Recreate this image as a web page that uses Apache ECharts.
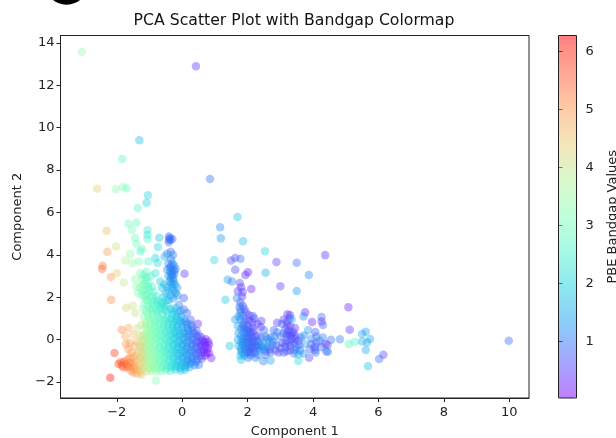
<!DOCTYPE html>
<html><head><meta charset="utf-8">
<style>html,body{margin:0;padding:0;background:#fff}#c{width:616px;height:438px}</style>
<script src="https://cdn.jsdelivr.net/npm/echarts@6/dist/echarts.min.js"></script>
</head><body><div id="c"></div>
<script>
const chartTitle = 'PCA Scatter Plot with Bandgap Colormap';
const xLabel = 'Component 1', yLabel = 'Component 2', barLabel = 'PBE Bandgap Values';
const xTicks = [-2, 0, 2, 4, 6, 8, 10];
const yTicks = [-2, 0, 2, 4, 6, 8, 10, 12, 14];
const barTicks = [1, 2, 3, 4, 5, 6];
const rainbowStops = ['#8000ff','#4c4ffc','#1a96f2','#1acee3','#4cf2ce','#80ffb4','#b3f296','#e6ce74','#ff964f','#ff4f28','#ff0000'];

// each point: [component 1, component 2, bandgap]
const outliers = [
[-3.07,13.58,3.5],[.42,12.9,.4],[-1.31,9.41,1.7],[-1.83,8.52,2.7],[.85,7.58,1],[-2.6,7.12,4.4],[-2.03,7.1,3.4],[-1.81,7.2,3.2],[-1.7,7.14,3],
[-1.05,6.82,2],[-1.09,6.46,2],[-1.36,6.2,2.6],[9.98,-.05,.9]];
const upperLeft = [
[-2.31,5.14,4.6],[-2.02,4.4,4.1],[-2.29,4.15,4.9],[-2.43,3.49,5.3],[-2.45,3.33,5.4],[-2.18,2.96,5],[-2,3.14,4.4],[-1.79,2.7,4],[-2.17,1.89,5.1],
[-1.71,1.51,4.3],[-1.51,1.6,4],[-1.44,1.26,4],[-1.64,5.47,3],[-1.4,5.53,2.9],[-1.54,5.19,3],[-1.44,4.8,3],[-1.4,4.53,3],[-1.06,5.16,2.4],[-1.06,4.95,2.3],[-1.06,4.75,2.6],
[-.7,4.81,1.8],[-.74,4.37,2],[-.41,4.87,.9],[-.36,4.72,.9],[-.41,4.6,.9],[-.3,4.75,1],[-1.23,4.28,2.9],[-1.28,4.17,2.7],[-1.59,4.04,3.3],[-1.74,3.74,3.8],[-1.52,3.62,3.5],[-1.33,3.69,3.1],
[-1.03,3.69,2.6],[-.82,3.85,2],[-.75,3.62,2.1],[-.46,4.06,1.2],[-.54,3.93,1.5],[-.34,3.8,1.1],[-.42,3.6,1.2],[-.25,3.5,1.1],[-.46,3.3,1.3],[-.36,3.2,1.2],[-.2,3.35,1.2],
[-.33,3.05,1.2],[-.28,2.9,1.1],[-.38,2.75,1.3],[.07,3.11,.5],[.05,1.97,.7],[-.82,3.14,2.2],[-.67,2.75,1.9],[-.62,2.44,1.8],[-.55,2.6,1.7],[-.41,1.89,1.5],[-.41,2.28,1.6],[-.26,2.35,1.5],[-.15,2.08,1.2],[-.28,1.95,1.4],
[-.1,1.65,1],[.05,1.42,.9],[.15,1.26,.9],[-.05,1.35,1.2],[.26,.94,.8],[.48,.75,.4],[.1,.85,1.1],
[-1.28,3.14,3],[-1.44,2.86,3.4],[-1.18,3.05,2.9],[-1.12,2.83,2.9],[-1.02,2.67,2.8],[-1.28,2.5,3.1],[-1,2.36,2.7],[-1.23,2.12,3],[-.92,2.05,2.7],[-1.12,1.9,2.9],[-.77,1.72,2.6],[-1.05,1.6,2.8],[-.9,1.5,2.7],[-1.2,1.45,3.2],[-.65,1.5,2.4],
[-1.4,2.5,3.3],[-1.1,3.2,2.8],[-.96,3.0,2.6],[-1.35,2.2,3.1],
[-1.15,2.6,3],[-1.2,2.3,3],[-1.08,2.15,2.9],[-1.0,2.0,2.8],[-.85,1.85,2.7],[-.95,1.75,2.8],[-1.1,1.35,3],[-.8,1.4,2.7],[-.7,1.6,2.5],[-.55,1.55,2.3],[-.45,1.6,2.1],[-.35,1.45,1.9],[-.2,1.5,1.7],
[-.34,3.45,1.1],[-.3,3.28,1.2],[-.24,3.1,1.2],[-.42,3.0,1.3],[-.32,2.65,1.3],[-.22,2.6,1.3],[-.15,2.45,1.4],[-.35,4.15,1],[-.28,4.0,1.1],[-.4,4.7,.9],[-.38,4.8,.8],
[-.38,3.4,1],[-.3,3.6,1.1],[-.24,3.25,1],[-.3,3.05,1],[-.35,2.9,1.2],[-.26,2.75,1.2],[-.45,2.5,1.5],[-.32,2.45,1.4],[-.5,2.2,1.6],[-.35,2.1,1.5],[-.2,2.2,1.3],[-.58,2.0,1.9],[-.5,1.85,1.8],[-.62,1.75,2.1],
[-1.22,2.85,3.0],[-1.08,2.95,2.7],[-1.2,2.6,3.1],[-1.05,2.5,2.8],[-.92,2.5,2.6],[-1.12,2.35,2.9],[-.88,2.25,2.6],[-.78,2.05,2.5],[-1.14,2.05,3],[-1.05,1.85,2.9],[-.88,1.65,2.6],[-.75,1.85,2.4],[-.62,1.65,2.3],[-1.15,1.7,3.1],[-1.0,1.45,2.9],[-.52,1.4,2.2],[-.7,1.38,2.5],[-.9,1.32,2.8],[-.25,1.35,1.8],[-.12,1.28,1.6]];
const lowerLeft = [
[-2.07,-.63,5.8],[-2.2,-1.8,6.1],[-1.85,.47,5.1],[-1.64,.55,4.8],[-1.38,.55,4],[-1.74,.16,4.8],[-1.95,-1.15,5.6],[-1.85,-1.2,5.6],[-1.78,-1.05,5.5],[-1.72,-1.15,5.4],[-1.68,-.95,5.3],[-1.7,-1.3,5.3],
[-1.72,-.2,5],[-1.6,-.15,4.9],[-1.65,-.45,5],[-1.55,-.6,4.9],[-1.6,-.85,5.1],[-1.5,-1.1,5],[-1.55,-1.3,5.1],[-1.45,-1.4,5],[-1.4,-1.6,4.8],[-1.25,-1.65,4.5],[-1.5,-1.55,5],
[-1.45,-.3,4.8],[-1.38,-.1,4.7],[-1.35,-.6,4.6],[-1.3,-.9,4.5],[-1.4,-1.0,4.7],[-1.3,-1.25,4.5],[-1.5,.25,4.5],[-1.3,.2,4.2],[-1.25,.7,4],[-1.3,-.35,4.3],
[-.8,-1.93,3.2],
[-1.5,-.85,4.9],[-1.42,-.75,4.7],[-1.45,-1.25,4.9],[-1.35,-1.4,4.7],[-1.3,-1.55,4.6],[-1.22,-1.4,4.3],[-1.25,-1.1,4.3],[-1.22,-.8,4.2],[-1.25,-.55,4.2],[-1.25,-.15,4.1],[-1.22,.15,3.9],[-1.6,-1.1,5.2],[-1.65,-1.25,5.3],[-1.8,-1.3,5.5],[-1.88,-1.05,5.6],[-1.58,-1.45,5.1]];
const mainCluster = [
[-1.18,1.1,3.4],[-1.05,1.2,3],[-.9,1.15,3],[-.75,1.25,2.7],[-.6,1.2,2.4],[-.45,1.28,2.2],[-.3,1.2,2],[-.17,1.1,1.7],
[-1.1,.85,3.3],[-.97,.9,3.1],[-.82,.85,2.9],[-.68,.95,2.7],[-.52,.88,2.4],[-.38,.95,2.2],[-.24,.85,1.9],[-.08,.9,1.6],
[-1.12,.55,3.5],[-1,.6,3.2],[-.87,.55,3],[-.72,.62,2.8],[-.58,.55,2.5],[-.44,.62,2.3],[-.3,.55,2],[-.15,.6,1.7],[0,.58,1.4],[.16,.55,1.2],[.3,.6,.9],
[-1.15,.25,3.6],[-1.02,.3,3.3],[-.9,.25,3.1],[-.76,.32,2.9],[-.62,.25,2.6],[-.48,.3,2.4],[-.34,.25,2.1],[-.2,.32,1.8],[-.06,.25,1.6],[.08,.3,1.3],[.22,.25,1.1],[.36,.3,.8],[.5,.2,.6],
[-1.18,-.05,3.8],[-1.05,0,3.5],[-.92,-.05,3.2],[-.78,.02,3],[-.64,-.05,2.7],[-.5,0,2.5],[-.36,-.05,2.2],[-.22,.02,1.9],[-.08,-.05,1.6],[.06,0,1.4],[.2,-.05,1.1],[.34,0,.9],[.48,-.08,.7],[.62,-.05,.4],[.72,.02,.25],
[-1.22,-.35,4.1],[-1.08,-.3,3.6],[-.95,-.35,3.3],[-.82,-.28,3.1],[-.68,-.35,2.8],[-.54,-.3,2.6],[-.4,-.35,2.3],[-.26,-.28,2],[-.12,-.35,1.7],[.02,-.3,1.5],[.16,-.35,1.2],[.3,-.3,1],[.44,-.35,.8],[.58,-.3,.5],[.7,-.28,.3],[.82,-.24,.2],
[-1.18,-.65,3.9],[-1.05,-.6,3.6],[-.92,-.65,3.3],[-.78,-.6,3],[-.64,-.65,2.8],[-.5,-.6,2.5],[-.36,-.65,2.2],[-.22,-.6,1.9],[-.08,-.65,1.7],[.06,-.6,1.4],[.2,-.65,1.2],[.34,-.6,1],[.48,-.62,.7],[.62,-.58,.3],[.74,-.62,.15],[.82,-.63,.1],[.89,-.86,.2],
[-1.2,-.95,4],[-1.06,-.9,3.7],[-.93,-.95,3.4],[-.8,-.9,3.1],[-.66,-.95,2.9],[-.52,-.9,2.6],[-.38,-.95,2.3],[-.24,-.9,2],[-.1,-.95,1.7],[.04,-.9,1.5],[.18,-.95,1.3],[.32,-.9,1.1],[.46,-.92,.9],[.6,-.9,.6],
[-1.15,-1.25,3.9],[-1.02,-1.2,3.7],[-.88,-1.25,3.4],[-.74,-1.2,3.1],[-.6,-1.25,2.8],[-.46,-1.2,2.5],[-.32,-1.25,2.3],[-.18,-1.2,2],[-.04,-1.25,1.7],[.1,-1.2,1.5],[.24,-1.15,1.3],[.38,-1.2,1.1],[.51,-1.18,1],
[-1.08,-1.5,3.9],[-.95,-1.48,3.6],[-.8,-1.5,3.3],[-.66,-1.48,3],[-.5,-1.45,2.7],[-.35,-1.48,2.4],[-.2,-1.4,2.1],[-.05,-1.45,1.9],[.08,-1.42,1.8]];
const mainFill = [
[-1.02,1.02,3.2],[-.88,.98,3],[-.74,1.05,2.8],[-.6,.98,2.6],[-.46,1.05,2.4],[-.32,1.0,2.05],[-.18,.95,1.85],[-.04,1.08,1.6],[.06,.95,1.4],
[-1.12,.7,3.5],[-.98,.72,3.3],[-.84,.7,3],[-.7,.75,2.8],[-.56,.7,2.5],[-.42,.75,2.2],[-.28,.7,2],[-.14,.72,1.8],[0,.78,1.5],[.14,.72,1.2],[.26,.72,1],
[-1.08,.4,3.5],[-.94,.42,3.2],[-.8,.4,3],[-.66,.45,2.7],[-.52,.4,2.5],[-.38,.45,2.2],[-.24,.4,1.9],[-.1,.45,1.7],[.04,.4,1.5],[.18,.42,1.2],[.32,.45,1],[.44,.42,.8],
[-1.1,.1,3.6],[-.96,.12,3.3],[-.82,.1,3],[-.68,.15,2.8],[-.54,.1,2.5],[-.4,.15,2.3],[-.26,.1,2],[-.12,.15,1.7],[.02,.1,1.5],[.16,.15,1.2],[.3,.1,1],[.44,.15,.8],[.58,.12,.5],
[-1.12,-.2,3.7],[-.98,-.18,3.4],[-.84,-.2,3.1],[-.7,-.15,2.9],[-.56,-.2,2.6],[-.42,-.15,2.3],[-.28,-.2,2],[-.14,-.15,1.8],[0,-.2,1.5],[.14,-.15,1.3],[.28,-.2,1.1],[.42,-.15,.8],[.56,-.18,.5],[.68,-.12,.3],[.8,-.1,.2],
[-1.14,-.5,3.8],[-1,-.48,3.4],[-.86,-.5,3.1],[-.72,-.45,2.9],[-.58,-.5,2.6],[-.44,-.45,2.4],[-.3,-.5,2.1],[-.16,-.45,1.8],[-.02,-.5,1.6],[.12,-.45,1.3],[.26,-.5,1.1],[.4,-.45,.9],[.54,-.48,.6],[.66,-.45,.35],[.78,-.42,.2],
[-1.12,-.8,3.8],[-.98,-.78,3.5],[-.84,-.8,3.2],[-.7,-.75,3],[-.56,-.8,2.7],[-.42,-.75,2.4],[-.28,-.8,2.1],[-.14,-.75,1.8],[0,-.8,1.5],[.14,-.75,1.3],[.28,-.8,1.1],[.42,-.75,.9],[.56,-.78,.6],[.7,-.75,.25],
[-1.12,-1.1,3.8],[-.98,-1.08,3.5],[-.84,-1.1,3.2],[-.7,-1.05,3],[-.56,-1.1,2.7],[-.42,-1.05,2.4],[-.28,-1.1,2.1],[-.14,-1.05,1.8],[0,-1.1,1.6],[.14,-1.05,1.3],[.28,-1.05,1.1],[.42,-1.05,1],
[-1.04,-1.36,3.7],[-.9,-1.34,3.4],[-.76,-1.36,3.2],[-.62,-1.32,2.9],[-.48,-1.35,2.6],[-.34,-1.32,2.3],[-.2,-1.28,2],[-.06,-1.33,1.8],[.08,-1.3,1.6],[.22,-1.3,1.4]];
const rightCluster = [
[1.69,5.79,1.8],[1.16,5.31,1.2],[1.18,4.78,1.3],[1.86,4.64,1.7],[2.53,4.17,2],[.98,3.76,2.1],[1.49,3.74,.7],[1.62,3.85,.6],[1.78,3.82,.9],[1.62,3.3,.6],[2.01,3.18,.3],[1.93,3.05,.4],
[2.88,3.66,.5],[3.5,3.63,.9],[4.37,3.99,.4],[3.87,3.05,1.2],[2.55,3.16,1.5],[3,2.52,.5],[3.5,2.3,1.3],[2.11,2.39,.3],[1.39,2.83,1.4],[1.52,2.75,1.1],[1.76,2.67,.6],[1.8,2.48,.4],[1.7,2.28,.5],[1.83,2.04,.3],[1.67,1.96,1.2],[1.85,2.25,.6],
[1.32,1.89,1.9],[5.08,1.53,.3],[5.12,.47,.4],[4.82,.02,1.1],[5.09,-.2,2.7],[5.27,-.11,2.6],[5.5,-.08,1.6],[5.5,.27,1.5],[5.61,.38,1.4],[5.65,-.13,1.5],[5.74,.03,1.4],[5.61,-.49,1.5],[5.68,-1.25,1.7],[6.02,-.91,.9],[6.15,-.71,.6],
[3.76,1.3,.3],[3.71,1.1,1.2],[4.26,1.07,.9],[4.26,.86,.4],[4.3,.69,.8],[3.97,.83,.3],[4.07,.36,.7],[3.22,1.2,.3],[3.3,1.15,.4],[2.2,1,.8],[2.05,1.15,.5],[2.16,1.12,.7],[1.78,1.4,1.2],[1.9,1.45,.8],[1.72,1.1,1.5],[1.85,1.15,1.1],[1.62,.95,1.4],
[2.4,.6,.4],[1.7,.65,1.4],[1.85,.7,1.1],[2,.65,.7],[1.72,.3,1.4],[1.88,.35,1],[2.02,.3,.7],[2.18,.4,.5],[2.3,.2,.6],[1.7,0,1.5],[1.85,.02,1.1],[2,.05,.9],[2.14,.05,.8],[2.28,-.05,1.1],[1.45,-.3,1.9],[1.72,-.3,1.6],[1.85,-.25,1.3],[2,-.3,1],[2.12,-.25,.9],[2.26,-.3,1],[2.4,-.25,1.4],
[1.8,-.55,1.4],[1.95,-.6,1],[2.08,-.55,.8],[2.22,-.62,.9],[2.36,-.5,1.1],[2.5,-.45,1.3],[1.78,-.75,1.7],[1.8,-.95,1.8],[2.02,-.85,1],[2.25,-.85,1.1],[2.48,-1.02,1.1],[2.7,-.98,1.5],
[2.55,.15,1.1],[2.65,-.1,1.4],[2.5,-.2,1.6],[2.75,-.25,1.3],[2.6,-.35,1.2],[2.85,-.5,.8],[2.95,-.6,.5],[2.7,-.6,.7],[2.5,.45,.9],[2.8,.45,.8],[2.9,.8,.5],[3.05,.75,.8],[2.9,.35,1.1],[3,.15,.9],
[3.15,.5,.8],[3.25,.4,.7],[3.05,-.15,.7],[3.2,-.05,.9],[3.3,.2,.6],[3.2,.85,.8],[3.3,.65,.4],[3.45,.55,.5],[3.45,.2,.6],[3.55,-.05,.4],[3.15,-.35,.8],[3.3,-.3,.5],[3.5,-.35,1],[3.42,-.65,.9],[3.55,-.7,1.6],[3.55,-1,2.1],[3.7,-.65,1.3],[3.75,-.2,1.5],[3.72,.2,1.1],[3.85,.45,1.3],
[3.35,.95,1.8],[3.1,-.6,.8],[3.9,-.45,.9],[3.88,-.85,.6],[4.05,-.35,.5],[4.1,-.15,.9],[4.2,-.05,1],[4.38,-.2,.3],[4.45,-.25,.7],[4.08,-.6,1],[4.4,-.55,1.1],[4.45,-.57,.9],[4.3,.1,1.1],[4.55,.0,.9]];
const rightFill = [
[1.78,1.75,.8],[1.85,1.6,.7],[1.75,1.55,1],[1.95,1.3,.6],[1.78,1.25,1],[1.95,.95,.8],[1.78,.95,1.2],[1.9,.82,.9],[2.05,.9,.5],[2.15,.8,.4],[2.3,.75,.6],[2.42,.88,.5],
[1.8,.5,1.2],[1.92,.5,.9],[2.05,.5,.8],[2.15,.55,.6],[1.8,.18,1.3],[1.95,.18,1],[2.1,.2,.8],[2.22,.15,.7],[1.8,-.12,1.4],[1.92,-.12,1],[2.05,-.12,.9],[2.2,-.12,.8],[2.35,-.1,1],
[1.8,-.42,1.3],[1.92,-.42,1.1],[2.05,-.42,.8],[2.18,-.42,.7],[2.32,-.38,1],[1.9,-.75,1.3],[2.1,-.72,.9],[2.32,-.72,1.1],[2.55,-.72,.9],[2.68,-.45,.6],[2.4,.1,.9],[2.7,.1,1.2],[2.82,.15,1.1],
[2.78,-.1,1],[2.88,-.25,.8],[3,-.4,.7],[3.15,-.18,.6],[3.2,.18,.5],[3.1,.3,.8],[3.22,.65,.5],[3.1,.95,.5],[3.28,1.0,.6],[3.4,.35,.5],[3.35,.02,.6],[3.42,-.15,.8],[3.58,-.25,.9],[3.62,.1,1],[3.3,-.5,.7],[3.45,-.48,.9],[3.2,-.55,.6],[3.6,-.5,1.1],[3.95,.05,1.1],[4.1,.15,1],[3.95,-.2,.7],[4.25,-.35,.8],[4.05,-.5,.8],
[1.88,.6,1],[1.98,.42,.9],[2.1,.35,.7],[1.9,.1,1.1],[2.02,.1,.9],[2.15,-.05,.7],[1.88,-.2,1.2],[2,-.2,1],[2.12,-.35,.8],[1.92,-.5,1.1],[2.02,-.6,.8],[2.15,-.6,.9],[2.28,-.28,.9],[1.85,-.65,1.4],[2.6,.05,1],[2.55,-.55,1],[2.45,-.35,1.2],[3.22,.28,.7],[3.35,.3,.6],[3.3,-.12,.7],[3.45,.05,.6]];

const allPoints = [...mainCluster, ...mainFill, ...lowerLeft, ...upperLeft, ...rightCluster, ...rightFill, ...outliers];
const barMin = 0.03, barMax = 6.27;
const hexA = h => h + '80';

const chart = echarts.init(document.getElementById('c'), null, {renderer:'canvas'});
const txt = '#222', font = 'DejaVu Sans';
chart.setOption({
  animation:false,
  textStyle:{fontFamily:font},
  title:{text:chartTitle,left:294,top:13,textAlign:'center',padding:0,textStyle:{fontFamily:font,fontSize:15.7,fontWeight:'normal',color:'#111'}},
  grid:[
    {left:60.5,top:35.5,width:468.5,height:362.5,show:true,borderColor:'#222',borderWidth:1,backgroundColor:'transparent',outerBoundsMode:'none'},
    {left:558.5,top:35.5,width:18,height:362.5,show:true,borderColor:'#222',borderWidth:1,backgroundColor:'transparent',z:10,outerBoundsMode:'none'}
  ],
  xAxis:[
    {type:'value',gridIndex:0,min:-3.72,max:10.6,position:'bottom',name:xLabel,nameLocation:'middle',nameGap:27,
     nameTextStyle:{fontSize:13,color:txt,fontFamily:font,verticalAlign:'top'},splitLine:{show:false},
     axisLine:{lineStyle:{color:'#222'},onZero:false},
     axisTick:{length:4,lineStyle:{color:'#222'},customValues:xTicks},
     axisLabel:{fontSize:13,color:txt,margin:8,customValues:xTicks,fontFamily:font,formatter:v=>String(v).replace('-','\u2212')}},
    {type:'value',gridIndex:1,min:0,max:1,show:false}
  ],
  yAxis:[
    {type:'value',gridIndex:0,min:-2.75,max:14.35,name:yLabel,nameLocation:'middle',nameGap:35,nameRotate:90,
     nameTextStyle:{fontSize:13,color:txt,fontFamily:font},splitLine:{show:false},
     axisLine:{lineStyle:{color:'#222'},onZero:false},
     axisTick:{length:4,lineStyle:{color:'#222'},customValues:yTicks},
     axisLabel:{fontSize:13,color:txt,margin:6,padding:[2,0,0,0],customValues:yTicks,fontFamily:font,formatter:v=>String(v).replace('-','\u2212')}},
    {type:'value',gridIndex:1,min:barMin,max:barMax,position:'right',name:barLabel,nameLocation:'middle',nameGap:30,nameRotate:90,
     nameTextStyle:{fontSize:13,color:txt,fontFamily:font},splitLine:{show:false},
     axisLine:{show:false},
     axisTick:{show:true,length:4,lineStyle:{color:'#222'},customValues:barTicks},
     axisLabel:{fontSize:13,color:txt,margin:9,padding:[2,0,0,0],customValues:barTicks,fontFamily:font}}
  ],
  visualMap:{type:'continuous',seriesIndex:0,dimension:2,min:barMin,max:barMax,left:558.5,top:35.5,itemWidth:18,itemHeight:362.5,
    padding:0,text:null,showLabel:false,calculable:false,realtime:false,hoverLink:false,z:1,
    inRange:{color:rainbowStops.map(hexA)},outOfRange:{color:'rgba(255,255,255,0)'}},
  graphic:[{type:'circle',shape:{cx:66.5,cy:-17,r:21.7},style:{fill:'#000'},silent:true}],
  series:[{type:'scatter',xAxisIndex:0,yAxisIndex:0,data:allPoints,symbolSize:8.5,itemStyle:{borderWidth:0},silent:true,large:false,z:3}]
});
</script></body></html>
